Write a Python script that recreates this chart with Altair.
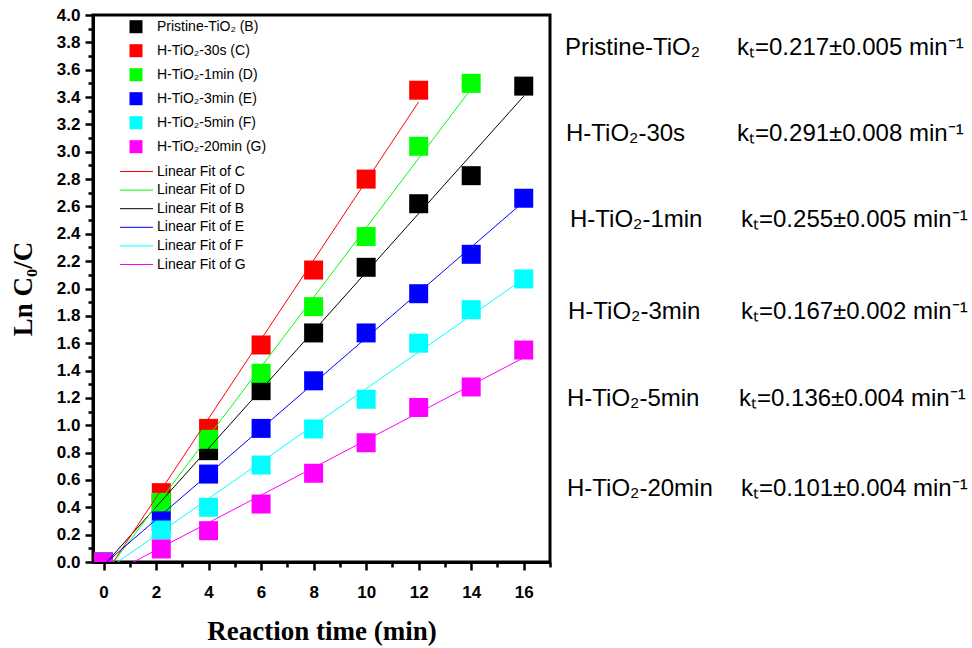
import altair as alt
import pandas as pd

# ---------------- data ----------------
series_keys = ["B", "C", "D", "E", "F", "G"]
series_names = ["Pristine-TiO₂ (B)", "H-TiO₂-30s  (C)", "H-TiO₂-1min (D)",
                "H-TiO₂-3min (E)", "H-TiO₂-5min (F)", "H-TiO₂-20min (G)"]
colors = ["#000000", "#FF0000", "#00FF00", "#0000FF", "#00FFFF", "#FF00FF"]

times = [0, 2.2, 4, 6, 8, 10, 12, 14, 16]
val_B = [0, 0.428, 0.814, 1.253, 1.675, 2.155, 2.62, 2.825, 3.48]
val_C = [0, 0.507, 0.977, 1.587, 2.135, 2.80, 3.45]
val_D = [0, 0.436, 0.897, 1.38, 1.867, 2.38, 3.04, 3.50]
val_E = [0, 0.30, 0.643, 0.977, 1.325, 1.675, 1.962, 2.25, 2.66]
val_F = [0, 0.234, 0.40, 0.709, 0.973, 1.19, 1.60, 1.845, 2.07]
val_G = [0, 0.095, 0.229, 0.424, 0.649, 0.872, 1.13, 1.28, 1.55]

fit_keys = ["C", "D", "B", "E", "F", "G"]
fit_labels = ["Linear Fit of C", "Linear Fit of D", "Linear Fit of B",
              "Linear Fit of E", "Linear Fit of F", "Linear Fit of G"]

rate_names = ["Pristine-TiO₂", "H-TiO₂-30s", "H-TiO₂-1min",
              "H-TiO₂-3min", "H-TiO₂-5min", "H-TiO₂-20min"]
rate_texts = ["kₜ=0.217±0.005 min⁻¹", "kₜ=0.291±0.008 min⁻¹",
              "kₜ=0.255±0.005 min⁻¹", "kₜ=0.167±0.002 min⁻¹",
              "kₜ=0.136±0.004 min⁻¹", "kₜ=0.101±0.004 min⁻¹"]

x_ticks = list(range(0, 18))
y_ticks = [round(i * 0.1, 1) for i in range(41)]

# --------------- table ----------------
vals = {"B": val_B, "C": val_C, "D": val_D, "E": val_E, "F": val_F, "G": val_G}
rows = []
for k in series_keys:
    for t, v in zip(times, vals[k]):
        rows.append({"series": k, "time": t, "value": v})
df = pd.DataFrame(rows)

color_of = dict(zip(series_keys, colors))

SANS = "Liberation Sans"
SERIF = "Liberation Serif"

W, H = 457, 547
PL, PT = 93, 15

x_scale = alt.Scale(domain=[-0.4, 17], nice=False, zero=False)
y_scale = alt.Scale(domain=[0, 4], nice=False, zero=False)

x_axis = alt.Axis(
    values=x_ticks, format="d",
    labelExpr="datum.value % 2 == 0 ? datum.label : ''",
    tickSize={"condition": {"test": "datum.value % 2 == 0", "value": 8}, "value": 5},
    tickWidth=2.5, tickColor="black", domainColor="black", domainWidth=3,
    labelFont=SANS, labelFontWeight="bold", labelFontSize=17, labelColor="black",
    labelPadding=14, grid=False,
    title="Reaction time (min)", titleFont=SERIF, titleFontWeight="bold",
    titleFontSize=27, titleColor="black", titlePadding=18,
)
y_axis = alt.Axis(
    values=y_ticks, format=".1f",
    labelExpr="round(datum.value * 10) % 2 == 0 ? datum.label : ''",
    tickSize={"condition": {"test": "round(datum.value * 10) % 2 == 0", "value": 8}, "value": 5},
    tickWidth=2.5, tickColor="black", domainColor="black", domainWidth=3,
    labelFont=SANS, labelFontWeight="bold", labelFontSize=17, labelColor="black",
    labelPadding=5, grid=False,
    title="Ln C₀/C", titleFont=SERIF, titleFontWeight="bold",
    titleFontSize=27, titleColor="black", titlePadding=19,
)

color_enc = alt.Color("series:N", scale=alt.Scale(domain=series_keys, range=colors), legend=None)

base = alt.Chart(df)

lines = base.transform_regression(
    "time", "value", groupby=["series"], method="linear"
).mark_line(strokeWidth=1, clip=True).encode(
    x=alt.X("time:Q", scale=x_scale, axis=x_axis),
    y=alt.Y("value:Q", scale=y_scale, axis=y_axis),
    color=color_enc,
    detail="series:N",
)

points = base.mark_point(shape="square", filled=True, size=361, opacity=1, clip=True).encode(
    x=alt.X("time:Q", scale=x_scale, axis=x_axis),
    y=alt.Y("value:Q", scale=y_scale, axis=y_axis),
    color=color_enc,
)

dummy = pd.DataFrame({"a": [0]})
layers = [points, lines]

# legend: symbols
for i, (name, col) in enumerate(zip(series_names, colors)):
    yy = 26.7 - PT + i * 24.0
    layers.append(alt.Chart(dummy).mark_point(shape="square", filled=True, size=169,
                                              color=col, opacity=1)
                  .encode(x=alt.value(136 - PL), y=alt.value(yy)))
    layers.append(alt.Chart(dummy).mark_text(text=name, align="left", baseline="middle",
                                             font=SANS, fontSize=14, color="black")
                  .encode(x=alt.value(157 - PL), y=alt.value(yy)))
# legend: fit lines
for i, (k, lab) in enumerate(zip(fit_keys, fit_labels)):
    yy = 171.5 - PT + i * 18.6
    layers.append(alt.Chart(dummy).mark_rule(color=color_of[k], strokeWidth=1)
                  .encode(x=alt.value(120 - PL), x2=alt.value(153 - PL), y=alt.value(yy)))
    layers.append(alt.Chart(dummy).mark_text(text=lab, align="left", baseline="middle",
                                             font=SANS, fontSize=14, color="black")
                  .encode(x=alt.value(157 - PL), y=alt.value(yy)))

# rate constant annotations
row_y = [48, 134, 220, 312, 399, 489]
name_x = [565, 566, 570, 568, 567, 567]
k_x = [737, 737, 741, 741, 739, 741]
for i in range(6):
    layers.append(alt.Chart(dummy).mark_text(text=rate_names[i], align="left", baseline="middle",
                                             font=SANS, fontSize=24, color="black")
                  .encode(x=alt.value(name_x[i] - PL), y=alt.value(row_y[i] - PT)))
    layers.append(alt.Chart(dummy).mark_text(text=rate_texts[i], align="left", baseline="middle",
                                             font=SANS, fontSize=24, color="black")
                  .encode(x=alt.value(k_x[i] - PL), y=alt.value(row_y[i] - PT)))

chart = alt.layer(*layers).properties(
    width=W, height=H,
    autosize=alt.AutoSizeParams(type="none"),
    padding={"left": PL, "top": PT, "right": 972 - PL - W, "bottom": 648 - PT - H},
    background="white",
).configure_view(stroke="black", strokeWidth=3)

chart.save("out.html", embed_options={"renderer": "svg", "actions": False})
